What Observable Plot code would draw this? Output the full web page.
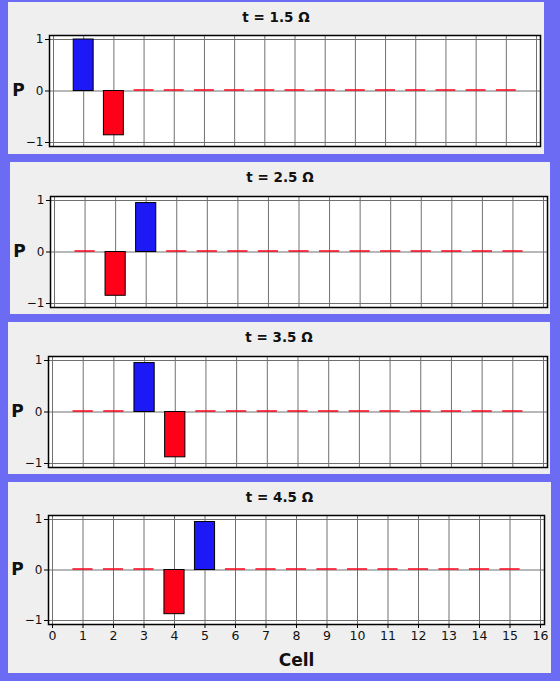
<!DOCTYPE html>
<html>
<head>
<meta charset="utf-8">
<script src="https://cdn.jsdelivr.net/npm/d3@7"></script>
<script src="https://cdn.jsdelivr.net/npm/@observablehq/plot@0.6"></script>
<style>
  html, body { margin: 0; padding: 0; }
  body { width: 560px; height: 681px; background: #6b6bf4; position: relative; overflow: hidden; font-family: "DejaVu Sans", sans-serif; }
  .panel { position: absolute; background: #efefef; }
  .title { height: 28px; line-height: 30px; text-align: center; font-weight: bold; font-size: 13.5px; color: #111; }
  .panel svg { display: block; }
</style>
</head>
<body>
<script>
// ---- data ----
const cells = [1, 2, 3, 4, 5, 6, 7, 8, 9, 10, 11, 12, 13, 14, 15];
const times = [1.5, 2.5, 3.5, 4.5];
const P_t15 = [1.0, -0.86, 0, 0, 0, 0, 0, 0, 0, 0, 0, 0, 0, 0, 0];
const P_t25 = [0, -0.85, 0.95, 0, 0, 0, 0, 0, 0, 0, 0, 0, 0, 0, 0];
const P_t35 = [0, 0, 0.95, -0.88, 0, 0, 0, 0, 0, 0, 0, 0, 0, 0, 0];
const P_t45 = [0, 0, 0, -0.875, 0.95, 0, 0, 0, 0, 0, 0, 0, 0, 0, 0];
const xTicks = [0, 1, 2, 3, 4, 5, 6, 7, 8, 9, 10, 11, 12, 13, 14, 15, 16];
const yTicks = [-1, 0, 1];
const xLabel = "Cell";
const yLabel = "P";

// ---- layout (kept separate from data) ----
const layout = [
  {left: 8,  top: 2,   width: 536, height: 152, mt: 5, mb: 8, ml: 41, mr: 4},
  {left: 10, top: 162, width: 540, height: 152, mt: 6, mb: 7, ml: 40, mr: 3},
  {left: 8,  top: 322, width: 542, height: 152, mt: 6, mb: 7, ml: 40, mr: 3},
  {left: 8,  top: 482, width: 543, height: 191, mt: 5, mb: 49, ml: 40, mr: 7}
];
const series = [P_t15, P_t25, P_t35, P_t45];
const BLUE = "#1c18f6", RED = "#ff0019", GRID = "#707070";
const HALF = 0.33;
const fmt = d => (d < 0 ? "\u2212" + Math.abs(d) : String(d));

series.forEach((vals, i) => {
  const L = layout[i];
  const isLast = i === series.length - 1;
  const rows = cells.map((c, j) => ({cell: c, p: vals[j]}));
  const bars = rows.filter(d => d.p !== 0);
  const zeros = rows.filter(d => d.p === 0);

  const panel = document.createElement("div");
  panel.className = "panel";
  Object.assign(panel.style, {left: L.left + "px", top: L.top + "px", width: L.width + "px", height: L.height + "px"});
  const title = document.createElement("div");
  title.className = "title";
  title.textContent = `t = ${times[i]} Ω`;
  panel.appendChild(title);

  const marks = [
    Plot.frame({fill: "white"}),
    Plot.gridX(xTicks, {stroke: GRID, strokeOpacity: 1, strokeWidth: 1}),
    Plot.gridY(yTicks, {stroke: GRID, strokeOpacity: 1, strokeWidth: 1}),
    Plot.ruleY(zeros, {x1: d => d.cell - HALF, x2: d => d.cell + HALF, y: "p", stroke: RED, strokeWidth: 1.5, dy: -1}),
    Plot.rect(bars, {x1: d => d.cell - HALF, x2: d => d.cell + HALF, y1: 0, y2: "p",
      fill: d => d.p > 0 ? BLUE : RED, stroke: "black", strokeWidth: 1}),
    Plot.frame({stroke: "black", strokeWidth: 1.5}),
    Plot.axisY(yTicks, {tickSize: 4, tickPadding: 2, label: null, fontSize: 12, stroke: "black", tickFormat: fmt}),
    Plot.text([yLabel], {frameAnchor: "left", text: d => d, dx: -31, textAnchor: "middle",
      fontWeight: "bold", fontSize: 17, fill: "#111"})
  ];
  if (isLast) {
    marks.push(Plot.axisX(xTicks, {tickSize: 4, tickPadding: 3, label: null, fontSize: 12.5, stroke: "black", tickFormat: fmt}));
    marks.push(Plot.text([xLabel], {frameAnchor: "bottom", text: d => d, dy: 36, lineAnchor: "middle",
      fontWeight: "bold", fontSize: 17, fill: "#111"}));
  }

  const chart = Plot.plot({
    width: L.width,
    height: L.height - 28,
    marginTop: L.mt, marginBottom: L.mb, marginLeft: L.ml, marginRight: L.mr,
    style: {background: "transparent", fontFamily: "DejaVu Sans, sans-serif", fontSize: "12px", color: "#111", overflow: "visible"},
    x: {type: "linear", domain: [0, 16], insetLeft: 4, insetRight: 4, axis: null},
    y: {type: "linear", domain: [-1, 1], insetTop: 4, insetBottom: 4, axis: null},
    marks
  });
  panel.appendChild(chart);
  document.body.appendChild(panel);
});
</script>
</body>
</html>
